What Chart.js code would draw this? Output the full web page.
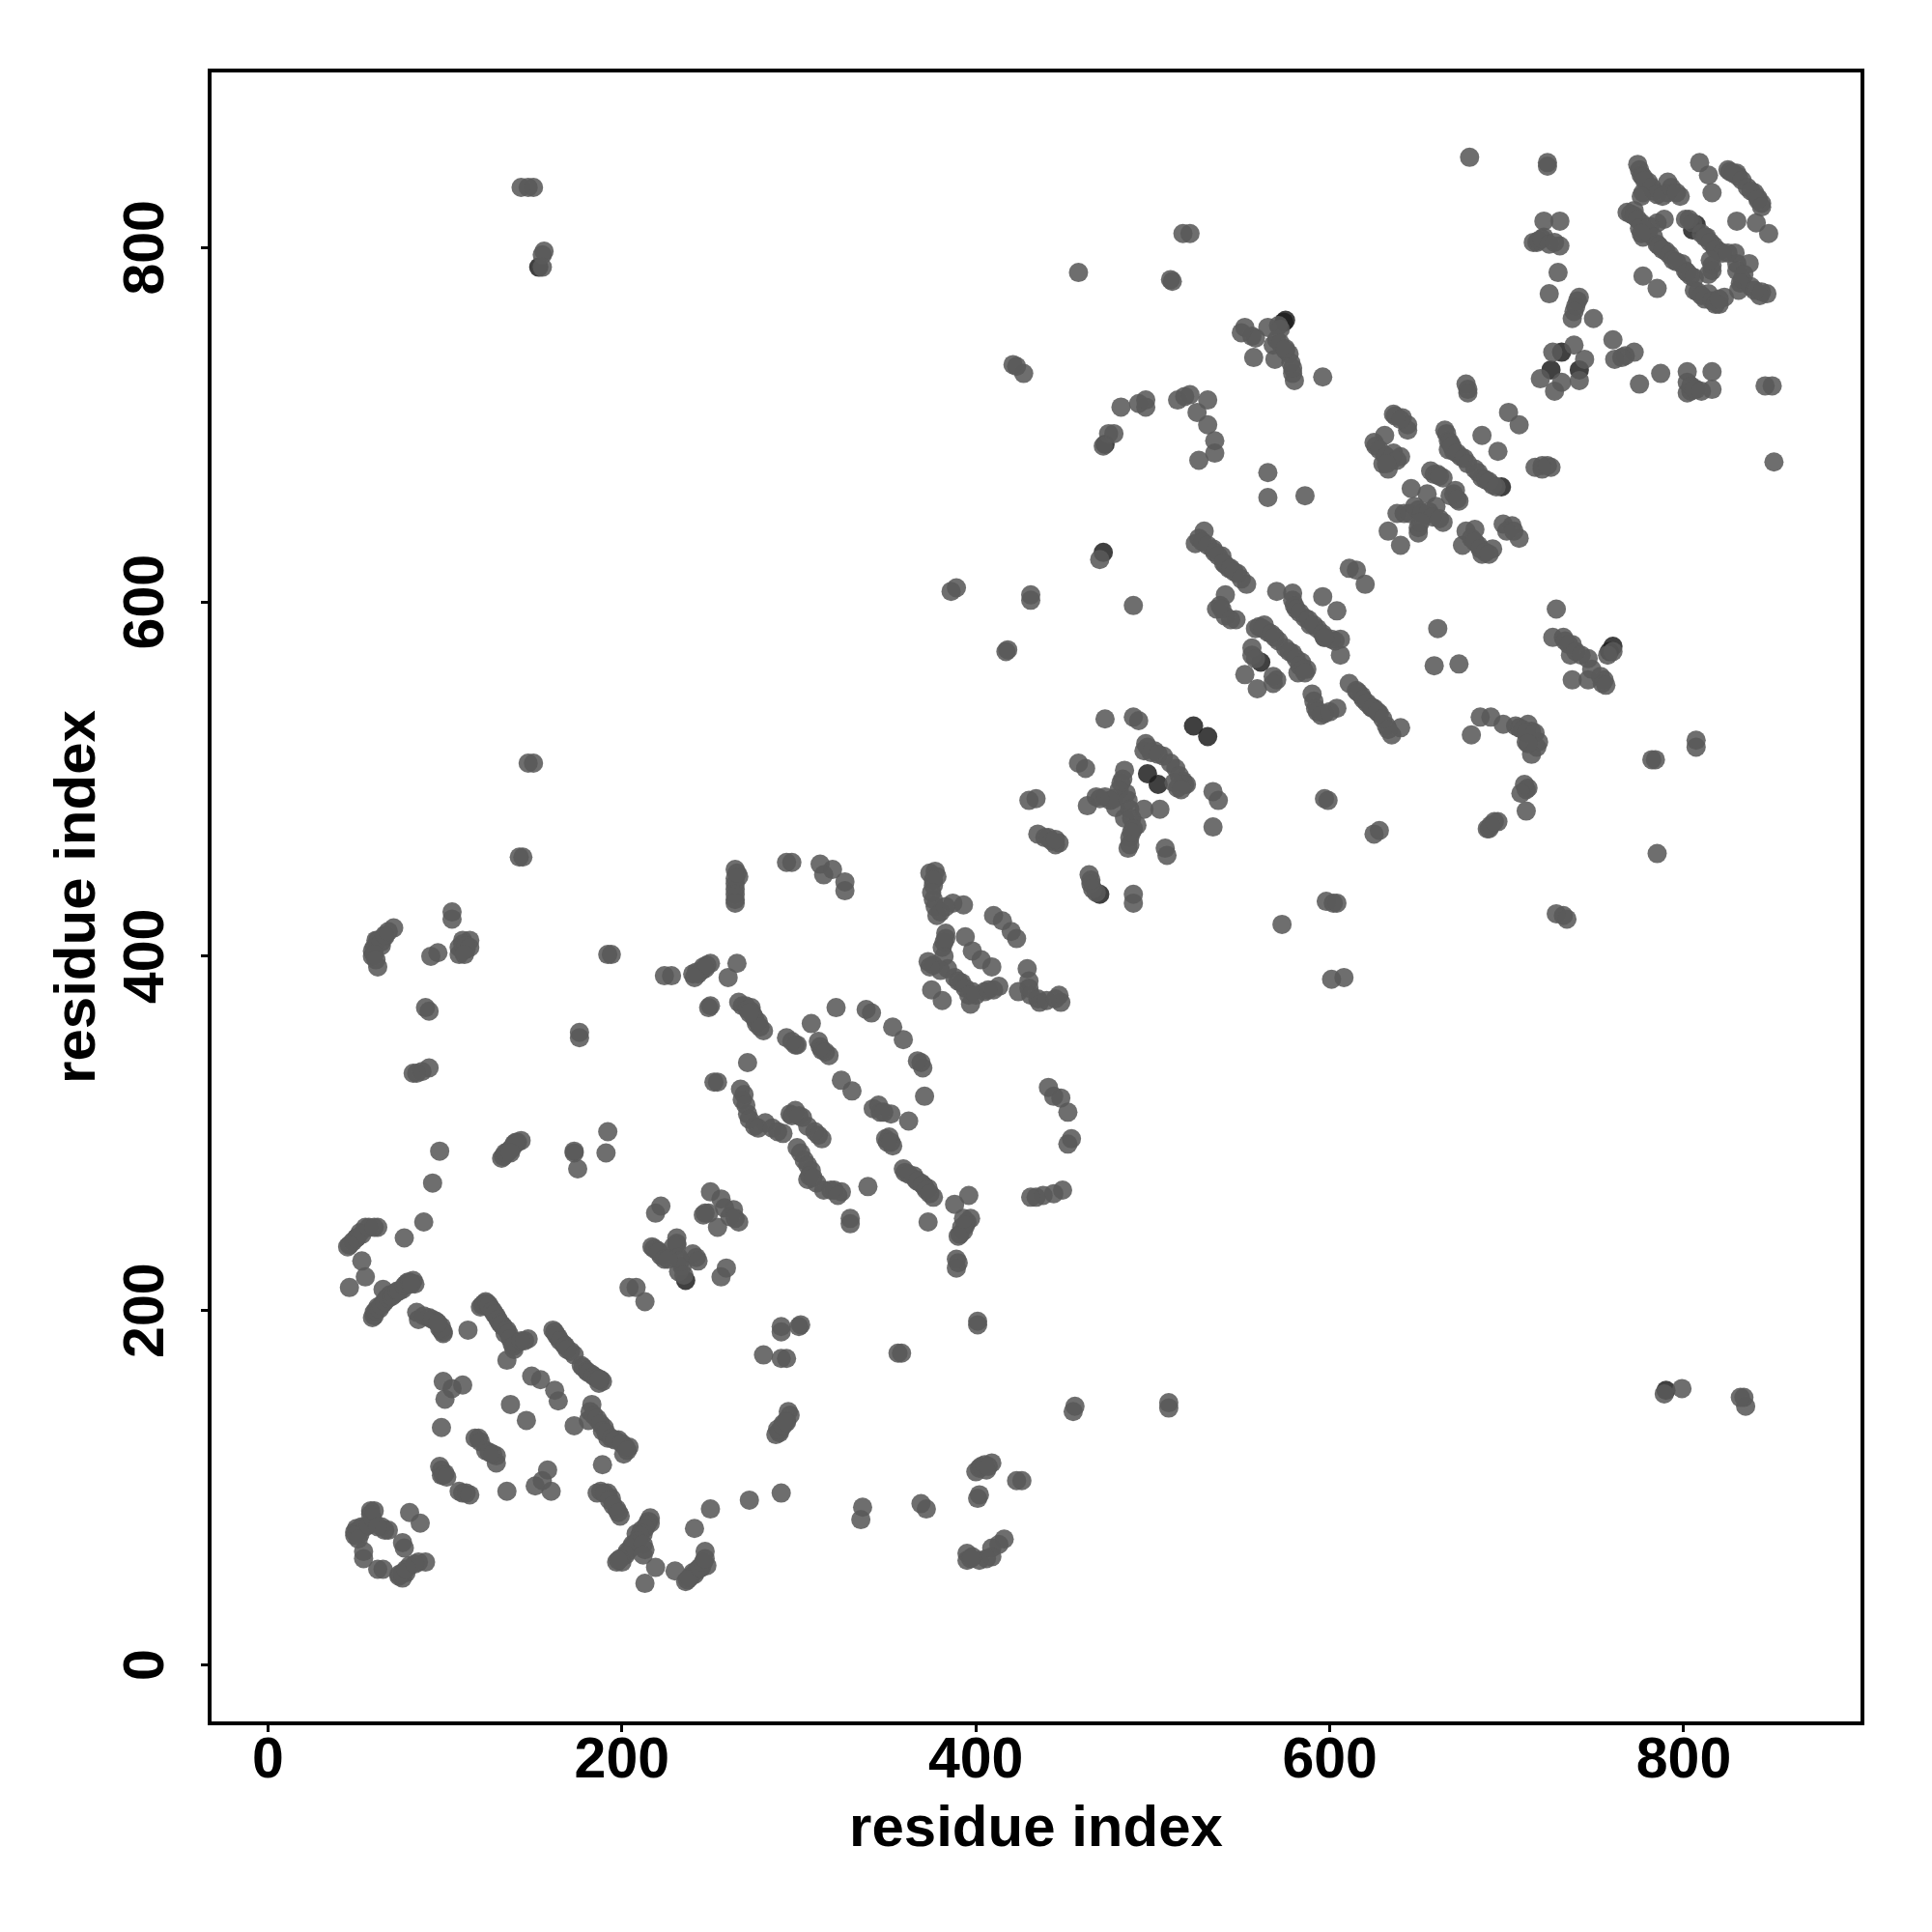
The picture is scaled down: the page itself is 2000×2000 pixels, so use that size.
<!DOCTYPE html>
<html>
<head>
<meta charset="utf-8">
<title>contact map</title>
<script src="https://cdn.jsdelivr.net/npm/chart.js@4"></script>
<style>
  html, body { margin: 0; background: #fff; }
  canvas { display: block; }
</style>
</head>
<body>
<canvas id="chart1" width="2000" height="2000"></canvas>
<script>
const tickValues = [0, 200, 400, 600, 800];
const axisTitle = "residue index";

// contacts, [x residue, y residue]
const lowerLeft = [
  [58,87],[58,85],[51,76],[49,75],[53,78],[55,78],[64,78],[68,76],[76,69],[77,66],[54,64],[54,60],
  [62,54],[65,54],[76,49],[78,52],[80,56],[85,58],[89,58],[80,86],[86,80],
  [46,213],[55,219],[53,228],[59,196],[60,199],[62,202],[65,204],[67,207],[69,209],[72,210],[76,212],
  [79,216],[82,217],[65,212],[83,215],[84,199],[85,195],[91,196],[95,194],[98,191],[99,187],[98,189],
  [113,189],[120,202],[123,205],[126,201],[129,197],[133,191],[134,187],[138,181],[139,178],[147,184],
  [141,182],[135,172],[161,189],[164,185],[167,181],[171,177],[177,169],[183,164],[188,161],[187,159],
  [180,166],[99,160],[100,150],[110,158],[104,156],[149,163],[154,161],[162,155],[164,149],[137,147],
  [146,138],[173,135],[183,147],[181,138],[190,134],[192,128],[198,127],[202,123],[204,123],[201,119],
  [98,134],[119,128],[117,128],[129,118],[129,114],[123,121],[97,112],[100,108],[98,107],[108,98],
  [112,97],[135,98],[158,110],[151,101],[160,98],[155,104],[189,113],[188,98],[194,94],[197,88],
  [199,84],[192,97],[215,81],[211,76],[213,65],[206,68],[203,64],[197,58],[200,58],[216,83],[208,74],
  [241,77],[250,88],[272,93],[290,97],[219,55],[213,46],[230,53],[247,64],[248,56],[245,55],[242,53],
  [239,50],[236,47],[241,51],[243,54],[204,213],[208,213],[213,205],[290,191],[290,188],[280,175],
  [290,173],[293,173],[289,132],[293,138],[295,141],[287,130]
];

const lowerLeftBands = [
  [50,77],[52,74],[49,73],[51,71],[57,79],[59,83],[60,87],[74,50],[76,52],[74,51],[78,54],[83,57],
  [66,76],[62,78],[60,197],[61,200],[63,201],[64,203],[66,205],[68,207],[70,208],[71,209],[73,211],
  [74,211],[77,214],[78,215],[80,216],[81,215],[88,197],[93,195],[97,190],[99,188],[96,193],[121,203],
  [122,204],[124,204],[125,203],[127,200],[128,198],[130,195],[131,193],[132,192],[135,189],[136,187],
  [137,184],[139,180],[143,183],[145,183],[162,188],[163,186],[165,183],[168,180],[169,178],[173,175],
  [178,168],[181,165],[184,163],[186,162],[189,160],[187,161],[182,143],[184,141],[186,139],[188,136],
  [189,132],[191,131],[194,128],[196,127],[200,125],[203,121],[216,80],[214,79],[213,77],[212,74],
  [210,73],[209,70],[207,68],[205,66],[202,62],[199,60],[198,59],[212,68],[212,62],[240,52],[238,49],
  [237,48],[244,55],[246,58],[247,60],[186,97],[190,97],[193,93],[195,90],[198,86],[98,110],[99,107],
  [101,106],[110,97],[114,96],[120,126],[125,120],[127,119]
];

const middleLeft = [
  [144,456],[142,456],[104,425],[104,421],[71,416],[66,411],[61,409],[59,403],[62,394],[59,400],[64,406],
  [96,402],[92,400],[110,409],[114,409],[110,403],[112,404],[108,401],[194,401],[192,401],[228,389],
  [224,389],[243,390],[246,394],[250,396],[260,388],[265,396],[240,390],[242,391],[89,371],[91,369],
  [250,372],[249,371],[266,374],[270,372],[274,367],[277,363],[280,358],[273,369],[176,357],[176,354],
  [321,371],[338,370],[341,368],[307,362],[353,360],[359,353],[293,354],[298,350],[311,352],[313,347],
  [317,344],[369,340],[370,337],[367,341],[271,340],[252,329],[254,329],[82,334],[87,335],[91,337],
  [84,334],[324,330],[330,324],[371,321],[267,325],[268,319],[271,311],[275,304],[281,306],[291,300],
  [298,313],[302,309],[309,301],[313,297],[295,311],[299,292],[303,285],[307,279],[310,272],[305,274],
  [320,268],[324,267],[345,316],[352,311],[346,312],[362,307],[351,298],[353,293],[349,297],[339,270],
  [359,280],[365,276],[369,272],[373,269],[376,264],[366,274],[371,270],[396,265],[388,260],[395,250],
  [391,243],[397,252],[392,247],[373,250],[329,252],[329,249],[389,229],[389,224],[390,227],
  [449,268],[444,266],[438,265],[434,264],[431,264],[192,301],[191,289],[173,290],[173,289],[175,280],
  [140,295],[137,291],[135,289],[132,286],[143,296],[136,290],[97,290],[93,272],[62,247],[55,247],
  [52,244],[48,239],[45,236],[50,241],[88,250],[77,241],[222,259],[219,255],[250,267],[256,263],
  [247,255],[263,257],[266,250],[254,247],[246,254],[217,236],[222,231],[231,241],[231,237],[242,230],
  [232,222],[234,225],[259,224],[256,219],[220,234],[264,449],[266,445],[264,438],[264,432],[264,441],
  [296,453],[293,453],[312,452],[319,449],[326,442],[326,437],[314,446],[377,448],[374,447],[376,440],
  [376,432],[380,425],[387,430],[393,429],[410,423],[415,420],[420,414],[423,410],[383,413],[381,405],
  [373,397],[384,393],[394,411],[398,403],[403,398],[409,394],[392,385],[398,380],[397,373],[413,383],
  [405,380],[375,381],[381,375],[429,393],[430,386],[424,380],[431,378],[447,378],[448,374],[436,374],
  [441,326],[448,320],[452,312],[454,297],[452,294],[444,321]
];

const middleLeftBands = [
  [60,405],[62,409],[64,408],[66,412],[68,414],[60,401],[61,398],[108,405],[110,407],[112,406],[114,405],
  [111,401],[264,444],[264,435],[264,430],[265,447],[268,372],[271,370],[273,371],[275,365],[276,362],
  [278,360],[245,392],[247,393],[248,395],[241,388],[133,287],[134,289],[138,292],[139,294],[141,295],
  [378,445],[376,443],[375,436],[377,428],[378,423],[383,428],[382,408],[383,410],[382,400],[376,395],
  [380,392],[388,388],[390,386],[394,382],[396,378],[400,378],[407,381],[410,381],[374,394],[430,382],
  [435,376],[440,375],[445,376],[299,350],[296,352],[312,349],[315,346],[269,322],[270,316],[272,308],
  [277,303],[285,303],[288,301],[296,310],[300,310],[305,304],[311,299],[301,289],[305,282],[306,276],
  [308,275],[314,268],[318,268],[322,265],[360,278],[362,277],[367,273],[370,271],[372,268],[374,266],
  [342,314],[348,312],[350,295],[352,295],[393,245],[394,248],[390,242],[393,252],[229,236],[231,238],
  [232,230],[233,228],[235,220],[218,235],[221,233],[224,229],[226,229],[240,232],[243,228],[50,241],
  [53,243],[57,247],[60,247],[46,237],[272,368],[249,255],[258,258],[261,253],[264,252],[137,289]
];

const middleRight = [
  [565,659],[586,660],[470,624],[431,601],[431,604],[489,598],[529,640],[524,633],[534,630],[539,626],
  [543,619],[548,616],[553,610],[541,621],[541,604],[536,596],[541,592],[547,590],[570,606],[579,605],
  [580,598],[586,591],[596,603],[604,595],[593,585],[597,580],[606,579],[606,570],[589,587],[611,619],
  [615,618],[620,610],[558,585],[565,583],[571,578],[579,571],[584,566],[587,562],[582,560],[563,587],
  [556,570],[552,559],[559,551],[570,556],[568,558],[590,548],[592,540],[597,537],[604,540],[611,554],
  [618,547],[623,541],[628,537],[632,530],[635,525],[640,529],[615,550],[625,540],[661,585],[659,564],
  [673,565],[728,596],[726,580],[732,580],[737,576],[736,570],[746,568],[737,556],[746,556],[754,554],
  [753,558],[685,535],[691,535],[698,531],[680,525],[712,531],[707,529],[718,521],[711,521],[714,514],
  [714,527],[712,495],[711,494],[711,482],[695,476],[690,472],[689,472],[599,488],[597,489],[628,471],
  [625,469],[602,430],[604,430],[598,431],[573,418],[732,423],[728,424],[734,421],[473,534],[489,535],
  [492,533],[496,520],[495,516],[501,516],[506,513],[513,506],[517,499],[519,497],[514,495],[458,509],
  [462,506],[484,505],[482,498],[485,492],[468,490],[473,490],[463,485],[479,484],[495,483],[504,483],
  [484,478],[491,474],[487,467],[486,461],[534,493],[537,488],[534,473],[434,489],[430,488],[435,469],
  [441,467],[447,464],[445,463],[507,461],[508,457],[464,446],[465,441],[489,435],[489,430],[418,573],
  [417,572],[782,511],[784,511],[807,522],[807,518],[785,458]
];

const middleRightBands = [
  [526,636],[528,634],[531,632],[535,628],[537,626],[540,622],[544,619],[546,617],[550,613],[538,598],
  [539,596],[544,590],[579,601],[581,596],[583,594],[588,590],[591,587],[596,582],[601,579],[603,578],
  [560,586],[562,585],[567,582],[569,580],[575,574],[577,572],[581,568],[583,564],[585,562],[586,560],
  [556,574],[558,568],[568,554],[591,544],[593,538],[595,536],[600,538],[616,549],[619,545],[621,543],
  [624,540],[627,538],[630,534],[633,528],[733,578],[735,576],[739,572],[742,570],[755,556],[756,553],
  [757,570],[760,572],[748,562],[705,530],[709,528],[711,526],[716,526],[717,518],[712,520],[710,497],
  [708,492],[691,474],[693,476],[497,518],[499,515],[503,514],[510,509],[515,502],[518,497],[512,498],
  [516,494],[483,500],[481,494],[478,489],[476,488],[470,489],[486,488],[487,483],[488,478],[489,472],
  [487,463],[488,470],[439,467],[443,465],[445,466],[466,438],[468,436],[465,443],[597,580]
];

const upperRight = [
  [679,851],[723,848],[723,846],[774,847],[776,841],[780,837],[783,832],[791,837],[798,829],[791,831],
  [777,831],[809,848],[814,841],[816,831],[825,844],[831,840],[840,831],[844,825],[830,842],[842,828],
  [830,815],[841,814],[848,808],[772,821],[768,820],[776,814],[777,806],[785,814],[789,816],[785,802],
  [790,798],[799,791],[804,784],[801,787],[801,816],[813,806],[817,801],[820,798],[829,797],[837,791],
  [830,791],[816,790],[814,785],[833,782],[831,776],[838,778],[847,774],[843,773],[806,776],[814,774],
  [820,768],[823,772],[777,784],[785,777],[721,815],[730,815],[717,803],[721,806],[730,801],[715,803],
  [729,786],[724,774],[741,772],[739,767],[737,760],[749,760],[760,748],[761,737],[767,739],[772,741],
  [726,741],[738,745],[744,737],[731,724],[719,726],[727,719],[741,725],[775,723],[787,729],[802,730],
  [816,730],[804,719],[802,718],[816,720],[807,720],[846,722],[850,722],[851,679],[596,727],[571,756],
  [558,749],[568,745],[577,740],[579,729],[580,725],[569,737],[677,723],[678,718],[636,706],[641,704],
  [644,700],[644,697],[631,694],[625,690],[631,683],[640,682],[635,680],[633,675],[665,697],[667,691],
  [670,685],[674,682],[682,675],[686,670],[692,666],[667,686],[686,694],[695,685],[701,707],[707,700],
  [720,677],[725,676],[716,676],[657,674],[664,670],[646,664],[655,661],[671,663],[673,657],[668,660],
  [638,650],[642,650],[648,654],[660,654],[654,649],[664,645],[650,639],[633,640],[640,632],[682,641],
  [675,632],[684,632],[692,630],[686,627],[698,644],[703,643],[707,636],[565,673]
];

const upperRightBands = [
  [775,844],[777,840],[778,838],[782,834],[785,830],[788,829],[776,829],[793,834],[796,831],[826,843],
  [828,842],[833,838],[836,834],[838,832],[842,827],[844,823],[770,819],[772,818],[774,816],[775,811],
  [778,810],[780,808],[781,812],[783,806],[786,801],[788,799],[792,796],[794,793],[796,792],[802,786],
  [806,783],[776,808],[803,816],[805,814],[810,808],[812,806],[815,803],[818,799],[822,797],[825,797],
  [815,793],[816,787],[830,787],[834,785],[832,780],[840,776],[844,775],[808,775],[810,773],[812,771],
  [816,770],[818,768],[820,771],[718,804],[720,805],[724,802],[727,803],[740,770],[738,764],[765,738],
  [802,724],[804,722],[806,720],[810,719],[565,755],[572,754],[570,748],[572,746],[575,742],[578,735],
  [579,732],[575,743],[637,705],[640,703],[626,688],[628,686],[632,682],[630,678],[636,684],[638,680],
  [632,678],[666,695],[668,690],[669,688],[672,684],[676,681],[678,678],[684,673],[688,669],[690,668],
  [694,665],[659,672],[661,672],[662,671],[670,661],[672,658],[645,650],[650,652],[652,650],[656,651],
  [658,648],[662,647],[650,642],[651,645],[677,640],[680,636],[682,634],[685,630],[688,628],[690,627],
  [700,640],[704,640],[720,675],[723,677],[678,720]
];

const farUpperLeft = [
  [147,509],[150,509],[147,834],[143,834],[150,834],[156,798],[155,796],[155,789],[386,606],[389,608],
  [423,733],[427,729],[421,734],[458,786],[510,782],[511,781],[517,808],[521,808],[475,695],[478,695],
  [472,688],[482,710],[492,712],[496,710],[496,714],[514,714],[521,717],[531,714],[525,707],[531,700],
  [535,691],[535,684],[526,680],[518,716],[552,755],[556,750],[557,738],[550,752]
];

const farLowerRight = [
  [301,192],[294,143],[291,136],[335,82],[336,89],[369,91],[372,88],[401,194],[401,192],[356,176],
  [358,176],[456,146],[455,143],[509,148],[509,145],[402,111],[409,114],[406,110],[400,109],[423,104],
  [426,104],[401,94],[402,96],[395,63],[395,59],[406,60],[402,59],[409,66],[416,71],[413,68],[409,61],
  [789,153],[799,156],[834,151],[835,146],[832,151],[601,387],[608,388],[289,131],[288,133],[291,135],
  [293,137],[403,112],[405,113],[407,112],[398,61],[397,60],[300,191]
];

// the few spots that print much darker than the rest
const darkContacts = [
  [236,217],[561,566],[497,503],[503,497],[807,813],[805,810],[731,741],[725,731],[741,731],
  [470,435],[697,665],[758,572],[760,575],[531,524],[523,530],[574,758],[575,759],[153,789],[790,155],
  [472,628],[473,689]
];

const toPoints = (list) => list.map((p) => ({ x: p[0], y: p[1] }));

const contacts = [].concat(
  lowerLeft, lowerLeftBands, middleLeft, middleLeftBands, middleRight, middleRightBands,
  upperRight, upperRightBands, farUpperLeft, farLowerRight
);

const frame = {
  id: "frame",
  afterDraw(chart) {
    const { ctx, chartArea: a } = chart;
    ctx.save();
    ctx.strokeStyle = "#000";
    ctx.lineWidth = 4;
    ctx.strokeRect(a.left, a.top, a.right - a.left, a.bottom - a.top);
    ctx.restore();
  },
};

const tickFont = { family: "'Liberation Sans'", size: 59, weight: "bold" };
const titleFont = { family: "'Liberation Sans'", size: 60, weight: "bold" };

const ctx1 = document.getElementById("chart1").getContext("2d");
const chart1 = new Chart(ctx1, {
  type: "scatter",
  data: {
    datasets: [
      {
        label: "contacts",
        data: toPoints(contacts),
        backgroundColor: "rgba(90, 90, 90, 0.88)",
        borderWidth: 0,
        pointRadius: 10,
      },
      {
        label: "dark contacts",
        data: toPoints(darkContacts),
        backgroundColor: "rgba(30, 30, 30, 0.85)",
        borderWidth: 0,
        pointRadius: 10,
      },
    ],
  },
  options: {
    responsive: false,
    animation: false,
    devicePixelRatio: 1,
    layout: { padding: { left: 0, top: 73, right: 72, bottom: 0 } },
    plugins: { legend: { display: false }, tooltip: { enabled: false } },
    scales: {
      x: {
        type: "linear",
        min: -33,
        max: 901,
        afterBuildTicks: (s) => { s.ticks = tickValues.map((v) => ({ value: v })); },
        afterFit: (s) => { s.height = 216; },
        border: { display: false },
        grid: { drawOnChartArea: false, drawTicks: true, tickLength: 9, tickWidth: 3, tickColor: "#000" },
        ticks: { color: "#000", font: tickFont, padding: -5, maxRotation: 0, minRotation: 0 },
        title: { display: true, text: axisTitle, color: "#000", font: titleFont, padding: { top: 0, bottom: 70 } },
      },
      y: {
        type: "linear",
        min: -33,
        max: 900,
        afterBuildTicks: (s) => { s.ticks = tickValues.map((v) => ({ value: v })); },
        afterFit: (s) => { s.width = 217; },
        border: { display: false },
        grid: { drawOnChartArea: false, drawTicks: true, tickLength: 9, tickWidth: 3, tickColor: "#000" },
        ticks: { color: "#000", font: tickFont, padding: 6, minRotation: 90, maxRotation: 90, crossAlign: "center" },
        title: { display: true, text: axisTitle, color: "#000", font: titleFont, padding: { top: 45, bottom: 0 } },
      },
    },
  },
  plugins: [frame],
});
</script>
</body>
</html>
